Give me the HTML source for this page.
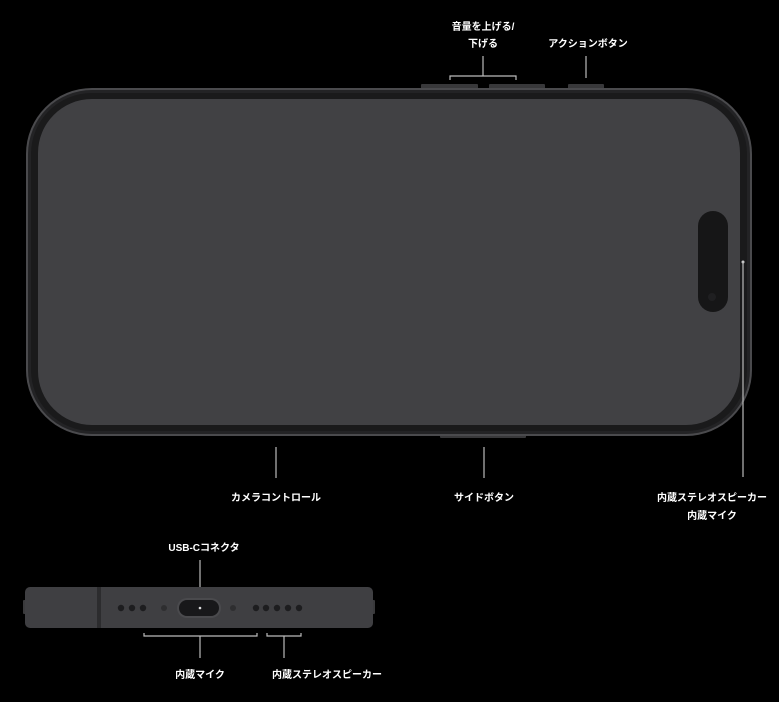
<!DOCTYPE html>
<html><head><meta charset="utf-8"><style>
html,body{margin:0;padding:0;background:#000;width:779px;height:702px;overflow:hidden}
svg text{font-family:"Liberation Sans","Noto Sans CJK JP",sans-serif;font-weight:bold;font-size:10px;fill:#fff;text-anchor:middle}
</style></head><body>
<svg width="779" height="702" viewBox="0 0 779 702">
<rect x="421" y="84" width="57" height="6" rx="1" fill="#38383a"/>
<rect x="489" y="84" width="56" height="6" rx="1" fill="#38383a"/>
<rect x="568" y="84" width="36" height="6" rx="1" fill="#38383a"/>
<rect x="440" y="432" width="86" height="6" rx="1" fill="#38383a"/>
<rect x="26" y="88" width="726" height="348" rx="66" fill="#4a4a4d"/>
<rect x="28" y="90" width="722" height="344" rx="64" fill="#232325"/>
<rect x="31" y="93" width="716" height="338" rx="61" fill="#1a1a1b"/>
<rect x="38" y="99" width="702" height="326" rx="54" fill="#414144"/>
<rect x="698" y="211" width="30" height="101" rx="15" fill="#161617"/>
<circle cx="712" cy="297" r="4" fill="#1f1f21"/>
<circle cx="743" cy="262" r="1.5" fill="#ccc"/>
<g stroke="#bbb" stroke-width="1.2" fill="none">
<path d="M450 80V76H516V80M483 76V56"/>
<path d="M586 56V78"/>
<path d="M276 447V478"/>
<path d="M484 447V478"/>
<path d="M743 262V477"/>
<path d="M200 560V607"/>
<path d="M144 633V636H257V633M200 636V658"/>
<path d="M267 633V636H301V633M284 636V658"/>
</g>
<text x="483" y="30">音量を上げる/</text>
<text x="483" y="47">下げる</text>
<text x="588" y="47">アクションボタン</text>
<text x="276" y="501">カメラコントロール</text>
<text x="484" y="501">サイドボタン</text>
<text x="712" y="501">内蔵ステレオスピーカー</text>
<text x="712" y="519">内蔵マイク</text>
<text x="204" y="551">USB-Cコネクタ</text>
<text x="200" y="678">内蔵マイク</text>
<text x="327" y="678">内蔵ステレオスピーカー</text>
<rect x="23" y="600" width="4" height="14" rx="1" fill="#3a3a3c"/>
<rect x="371" y="600" width="4" height="14" rx="1" fill="#3a3a3c"/>
<rect x="25" y="587" width="348" height="41" rx="5" fill="#3f3f42"/>
<rect x="97" y="587" width="4" height="41" fill="#2c2c2e"/>
<rect x="177" y="598" width="44" height="20" rx="10" fill="#4a4a4d"/>
<rect x="179" y="600" width="40" height="16" rx="8" fill="#18181a"/>
<circle cx="200" cy="608" r="1.3" fill="#ddd"/>
<g fill="#1d1d1f">
<circle cx="121" cy="608" r="3.2"/><circle cx="132" cy="608" r="3.2"/><circle cx="143" cy="608" r="3.2"/>
<circle cx="256" cy="608" r="3.2"/><circle cx="266" cy="608" r="3.2"/><circle cx="277" cy="608" r="3.2"/><circle cx="288" cy="608" r="3.2"/><circle cx="299" cy="608" r="3.2"/>
</g>
<circle cx="164" cy="608" r="3" fill="#2e2e30"/>
<circle cx="233" cy="608" r="3" fill="#2e2e30"/>
</svg>
</body></html>
